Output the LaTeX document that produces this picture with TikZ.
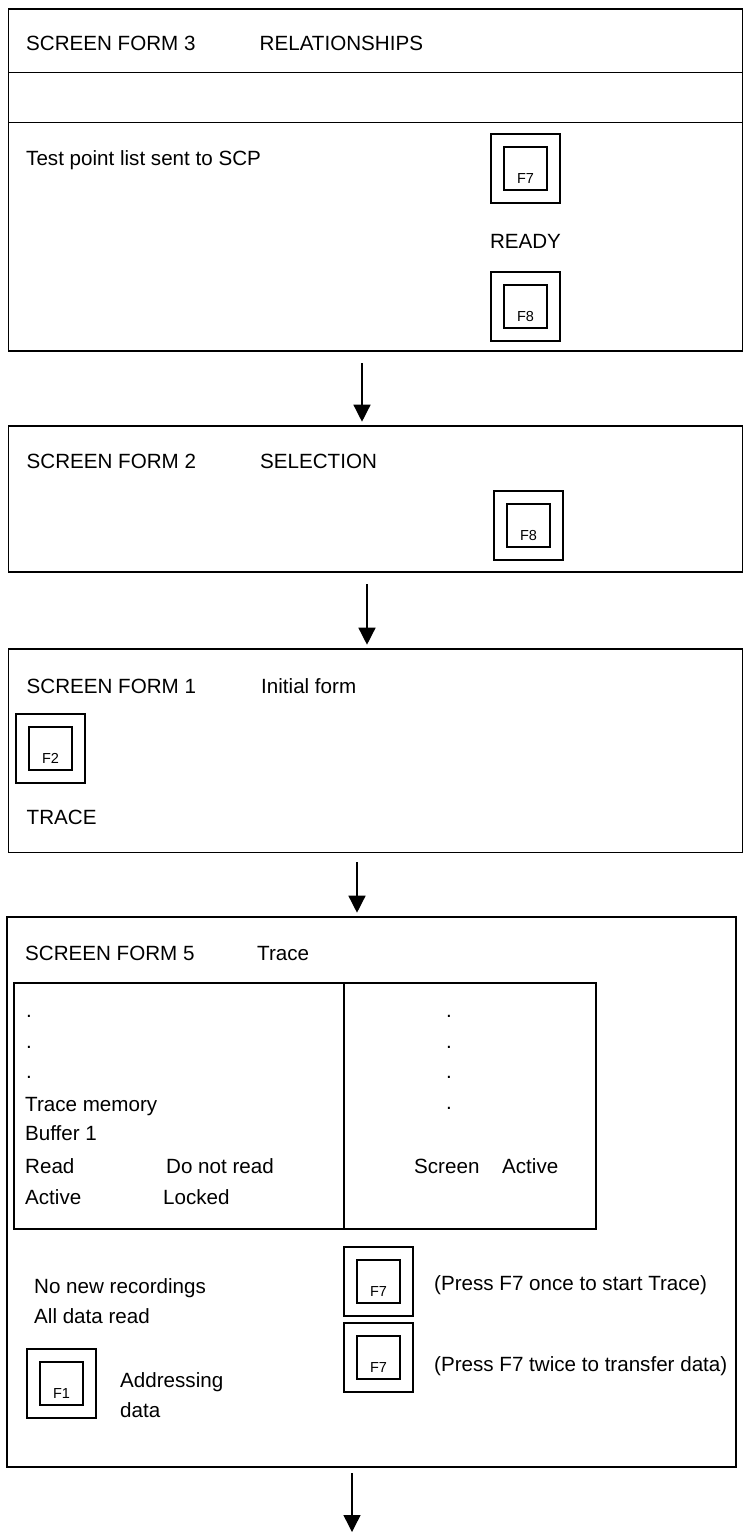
\documentclass[tikz,border=0pt]{standalone}
\usepackage{fontspec}
\setmainfont{Liberation Sans}
\usetikzlibrary{arrows.meta}
\tikzset{
  screen/.style={draw, line width=1.6pt, rectangle, anchor=north west, inner sep=0pt, outer sep=0pt},
  rule/.style={line width=1.6pt},
  keyout/.style={draw, line width=1.4pt, rectangle, minimum size=69pt, inner sep=0pt, outer sep=0pt},
  keyin/.style={draw, line width=1.4pt, rectangle, minimum size=43pt, inner sep=0pt, outer sep=0pt},
  keylab/.style={font=\fontsize{14.5}{17}\selectfont, anchor=base, inner sep=0pt},
  txt/.style={font=\fontsize{20.6}{24}\selectfont, anchor=base west, inner sep=0pt},
  txtc/.style={font=\fontsize{20.6}{24}\selectfont, anchor=base, inner sep=0pt},
  flow/.style={line width=1.4pt, -{Triangle[width=17pt,length=17pt]}, shorten >=4.3pt}
}
\newcommand{\fkey}[4]{%
  \node[keyout] (#1) at (#2,#3) {};
  \node[keyin] (#1i) at (#1.center) {};
  \node[keylab] (#1l) at ([yshift=-14.5pt]#1i.center) {#4};}
\begin{document}
\begin{tikzpicture}[x=1pt,y=-1pt]
\useasboundingbox (0,0) rectangle (743,1535);

% ---------- Screen form 3 ----------
\node[screen, minimum width=734pt, minimum height=342pt] (b1) at (8.5,9) {};
\draw[rule] (8.5,72.5) -- (742.5,72.5);
\draw[rule] (8.5,122.5) -- (742.5,122.5);
\node[txt] (t1a) at (26,50) {SCREEN FORM 3};
\node[txt] (t1b) at (259.5,50) {RELATIONSHIPS};
\node[txt] (t1c) at (26,165.5) {Test point list sent to SCP};
\fkey{k1}{525.5}{168.5}{F7}
\node[txtc] (ready) at (525.5,248) {READY};
\fkey{k2}{525.5}{306.5}{F8}

% ---------- Screen form 2 ----------
\node[screen, minimum width=734pt, minimum height=146pt] (b2) at (8.5,426) {};
\node[txt] (t2a) at (26.5,468) {SCREEN FORM 2};
\node[txt] (t2b) at (260,468) {SELECTION};
\fkey{k3}{528.5}{525.5}{F8}

% ---------- Screen form 1 ----------
\node[screen, minimum width=734pt, minimum height=203.5pt] (b3) at (8.5,649) {};
\node[txt] (t3a) at (26.5,693) {SCREEN FORM 1};
\node[txt] (t3b) at (261,693) {Initial form};
\fkey{k4}{50.5}{748.5}{F2}
\node[txt] (t3c) at (26.5,824) {TRACE};

% ---------- Screen form 5 ----------
\node[screen, minimum width=729pt, minimum height=550pt] (b4) at (7,917) {};
\node[txt] (t4a) at (25,960) {SCREEN FORM 5};
\node[txt] (t4b) at (257,960) {Trace};
\node[screen, minimum width=582pt, minimum height=246pt] (tab) at (14,983) {};
\draw[rule] (344,983) -- (344,1229);
\node[txt] (d1) at (26,1017) {.};
\node[txt] (d2) at (26,1048) {.};
\node[txt] (d3) at (26,1078) {.};
\node[txt] (tm) at (25,1111) {Trace memory};
\node[txt] (bf) at (25,1140) {Buffer 1};
\node[txt] (rd) at (25,1173) {Read};
\node[txt] (dnr) at (166,1173) {Do not read};
\node[txt] (ac) at (25,1204) {Active};
\node[txt] (lk) at (163,1204) {Locked};
\node[txt] (e1) at (446,1017) {.};
\node[txt] (e2) at (446,1048) {.};
\node[txt] (e3) at (446,1078) {.};
\node[txt] (e4) at (446,1109) {.};
\node[txt] (sc) at (414,1173) {Screen};
\node[txt] (sa) at (502,1173) {Active};
\node[txt] (nr) at (34,1293) {No new recordings};
\node[txt] (adr) at (34,1323) {All data read};
\fkey{k5}{378.5}{1281.5}{F7}
\fkey{k6}{378.5}{1357.5}{F7}
\fkey{k7}{61.5}{1383.5}{F1}
\node[txt] (p1) at (434,1290) {(Press F7 once to start Trace)};
\node[txt] (p2) at (434,1371) {(Press F7 twice to transfer data)};
\node[txt] (ad1) at (120,1387) {Addressing};
\node[txt] (ad2) at (120,1417) {data};

% ---------- Arrows ----------
\coordinate (a1) at (362,363);
\coordinate (a2) at (367,584);
\coordinate (a3) at (357,862);
\coordinate (a4) at (352,1473);
\coordinate (a4end) at (352,1536.3);
\draw[flow] (a1) -- (a1 |- b2.north);
\draw[flow] (a2) -- (a2 |- b3.north);
\draw[flow] (a3) -- (a3 |- b4.north);
\draw[flow] (a4) -- (a4end);
\end{tikzpicture}
\end{document}
